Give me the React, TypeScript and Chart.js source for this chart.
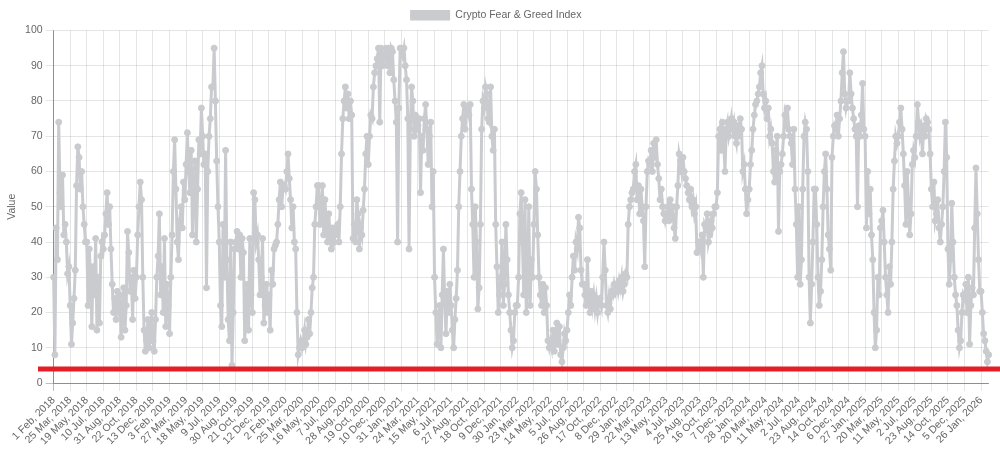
import React, { useEffect, useRef } from "react";
import { Chart, registerables } from "chart.js";

Chart.register(...registerables);

const SERIES_LABEL = "Crypto Fear & Greed Index";
const START_DATE = "2018-02-01";
const END_DATE = "2026-02-20";
const MISSING_DATES = ["2018-04-14", "2018-04-15", "2018-04-16", "2024-11-10"];
const SAMPLE_STEP = 4; // one reading every 4 days of the index
const MONTHS = ["Jan", "Feb", "Mar", "Apr", "May", "Jun", "Jul", "Aug", "Sep", "Oct", "Nov", "Dec"];

const TICK_LABELS = [
  "1 Feb, 2018", "25 Mar, 2018", "19 May, 2018", "10 Jul, 2018", "31 Aug, 2018", "22 Oct, 2018", "13 Dec, 2018",
  "3 Feb, 2019", "27 Mar, 2019", "18 May, 2019", "9 Jul, 2019", "30 Aug, 2019", "21 Oct, 2019", "12 Dec, 2019",
  "2 Feb, 2020", "25 Mar, 2020", "16 May, 2020", "7 Jul, 2020", "28 Aug, 2020", "19 Oct, 2020", "10 Dec, 2020",
  "31 Jan, 2021", "24 Mar, 2021", "15 May, 2021", "6 Jul, 2021", "27 Aug, 2021", "18 Oct, 2021", "9 Dec, 2021",
  "30 Jan, 2022", "23 Mar, 2022", "14 May, 2022", "5 Jul, 2022", "26 Aug, 2022", "17 Oct, 2022", "8 Dec, 2022",
  "29 Jan, 2023", "22 Mar, 2023", "13 May, 2023", "4 Jul, 2023", "25 Aug, 2023", "16 Oct, 2023", "7 Dec, 2023",
  "28 Jan, 2024", "20 Mar, 2024", "11 May, 2024", "2 Jul, 2024", "23 Aug, 2024", "14 Oct, 2024", "6 Dec, 2024",
  "27 Jan, 2025", "20 Mar, 2025", "11 May, 2025", "2 Jul, 2025", "23 Aug, 2025", "14 Oct, 2025", "5 Dec, 2025",
  "26 Jan, 2026",
];

const Y_MIN = 0;
const Y_MAX = 100;
const Y_STEP = 10;
const REFERENCE_LINE_VALUE = 4;

// Index readings, one every 4 days
const VALUES_2018 = [
  30, 8, 44, 35, 74, 54, 50, 59, 42, 45, 40, 31, 33,
  22, 11, 17, 24, 32, 56, 67, 64, 55, 60, 50, 45, 40,
  40, 22, 38, 30, 16, 33, 25, 41, 15, 30, 17, 36, 40,
  38, 42, 48, 54, 45, 50, 38, 28, 20, 24, 18, 26, 22,
  25, 13, 20, 27, 15, 22, 43, 37, 26, 30, 18, 32, 24,
  30, 42, 50, 57, 52, 30, 15, 9, 12, 18, 10, 14, 20,
  12, 9, 18, 30, 36, 48, 25, 33, 20, 41, 16, 28, 22,
];
const VALUES_2019 = [
  14, 30, 42, 60, 69, 55, 40, 35, 46, 50, 44, 57, 52,
  62, 71, 60, 54, 66, 42, 58, 63, 40, 55, 69, 65, 78,
  70, 62, 65, 27, 60, 70, 75, 84, 84, 95, 80, 63, 50,
  40, 22, 16, 45, 30, 66, 35, 18, 12, 40, 5, 20, 38,
  40, 43, 38, 42, 30, 41, 37, 12, 20, 28, 15, 41, 25,
  20, 54, 52, 40, 42, 35, 25, 30, 41, 17, 22, 28, 20,
  25, 15, 32, 28, 38, 39, 40, 45, 52, 57, 50, 55, 56,
];
const VALUES_2020 = [
  55, 60, 65, 58, 52, 44, 50, 40, 38, 20, 8, 10, 12,
  10, 12, 15, 11, 13, 18, 14, 20, 27, 30, 45, 50, 56,
  56, 45, 48, 56, 42, 52, 45, 40, 48, 42, 38, 44, 40,
  42, 44, 45, 40, 50, 65, 75, 80, 84, 78, 82, 75, 80,
  76, 41, 45, 40, 52, 48, 38, 44, 42, 49, 55, 65, 70,
  62, 70, 76, 75, 84, 88, 90, 92, 95, 74, 95, 90, 93,
  92, 95, 90, 95, 88, 95, 94, 86, 80, 74, 40, 78, 95,
];
const VALUES_2021 = [
  95, 93, 95, 90, 86, 75, 38, 72, 84, 80, 70, 76, 72,
  73, 75, 54, 70, 66, 75, 79, 72, 62, 70, 74, 50, 60,
  30, 20, 11, 15, 22, 10, 25, 38, 23, 14, 26, 20, 28,
  22, 15, 10, 18, 24, 32, 50, 60, 70, 75, 79, 72, 78,
  78, 76, 79, 55, 45, 30, 50, 40, 21, 27, 45, 72, 80,
  78, 84, 82, 75, 74, 84, 70, 66, 72, 45, 33, 20, 25,
  30, 40, 22, 28, 45, 35, 25, 20, 15, 10, 12, 20, 22,
];
const VALUES_2022 = [
  22, 30, 48, 54, 40, 25, 52, 20, 28, 50, 22, 35, 30,
  45, 60, 55, 42, 30, 25, 22, 28, 20, 27, 22, 12, 10,
  12, 10, 15, 9, 12, 17, 11, 16, 8, 6, 10, 14, 12,
  15, 20, 25, 22, 30, 36, 32, 40, 38, 47, 44, 32, 28,
  28, 25, 22, 35, 24, 20, 26, 22, 25, 21, 24, 20, 23,
  24, 22, 30, 40, 32, 22, 20, 24, 21, 26, 25, 28, 26,
  28, 26, 29, 27, 30, 26, 28, 31, 30, 45, 50, 52, 54,
];
const VALUES_2023 = [
  55, 60, 62, 52, 56, 48, 55, 50, 46, 33, 50, 60, 63,
  62, 66, 60, 68, 64, 69, 62, 58, 52, 55, 50, 48, 46,
  48, 50, 46, 52, 47, 50, 44, 41, 50, 56, 65, 63, 60,
  64, 60, 58, 56, 54, 52, 55, 50, 52, 48, 50, 37, 40,
  40, 38, 42, 30, 45, 44, 48, 40, 42, 46, 44, 48, 50,
  50, 54, 70, 72, 66, 74, 68, 60, 72, 74, 70, 72, 75,
  72, 74, 70, 68, 73, 70, 75, 72, 60, 62, 55, 48, 52,
];
const VALUES_2024 = [
  55, 62, 66, 72, 76, 79, 80, 82, 84, 88, 90, 82, 78,
  80, 75, 78, 70, 72, 68, 60, 57, 66, 70, 43, 60, 62,
  65, 70, 76, 74, 78, 72, 70, 68, 62, 72, 55, 45, 30,
  50, 28, 35, 55, 70, 74, 72, 60, 30, 17, 28, 40, 55,
  55, 45, 30, 22, 26, 35, 50, 60, 65, 55, 42, 38, 32,
  64, 70, 73, 72, 76, 70, 75, 80, 88, 94, 82, 78, 80,
  80, 88, 82, 78, 75, 72, 70, 50, 73, 70, 76, 85, 72,
];
const VALUES_2025 = [
  70, 44, 60, 48, 55, 42, 35, 20, 10, 15, 30, 25, 44,
  46, 49, 40, 30, 25, 20, 33, 28, 40, 55, 63, 70, 68,
  70, 74, 78, 72, 65, 56, 45, 60, 52, 42, 48, 62, 66,
  64, 70, 79, 74, 70, 72, 65, 73, 70, 75, 74, 72, 65,
  55, 50, 57, 46, 48, 52, 44, 40, 45, 50, 60, 74, 64,
  38, 28, 35, 51, 40, 30, 25, 22, 15, 10, 12, 20, 25,
  24, 28, 20, 30, 11, 22, 27, 25, 44, 61, 48, 35, 26,
  26, 20, 14, 12, 9, 6, 8,
];

const VALUES = [
  ...VALUES_2018, ...VALUES_2019, ...VALUES_2020, ...VALUES_2021,
  ...VALUES_2022, ...VALUES_2023, ...VALUES_2024, ...VALUES_2025,
];

function buildCategories(): string[] {
  const missing = new Set(MISSING_DATES);
  const out: string[] = [];
  const d = new Date(START_DATE + "T00:00:00Z");
  const end = new Date(END_DATE + "T00:00:00Z");
  let idx = 0;
  while (d.getTime() <= end.getTime()) {
    const iso = d.toISOString().slice(0, 10);
    if (!missing.has(iso)) {
      if (idx % SAMPLE_STEP === 0) {
        out.push(`${d.getUTCDate()} ${MONTHS[d.getUTCMonth()]}, ${d.getUTCFullYear()}`);
      }
      idx++;
    }
    d.setUTCDate(d.getUTCDate() + 1);
  }
  return out;
}

const CATEGORIES = buildCategories();
const TICK_SET = new Set(TICK_LABELS);

const GRAY = "rgb(201, 203, 207)";
const TEXT = "#666";
const GRID = "rgba(0,0,0,0.1)";
const AXIS_LINE = "rgba(0,0,0,0.25)";
const RED = "rgb(228, 30, 38)";
const FONT_SIZE = 10.5;
const X_AXIS_HEIGHT = 72;
const X_EXTRA_RIGHT = 7;

const referenceLine = {
  id: "referenceLine",
  afterDraw(chart: any) {
    const y = chart.scales.y.getPixelForValue(REFERENCE_LINE_VALUE);
    const ctx = chart.ctx;
    ctx.save();
    ctx.strokeStyle = RED;
    ctx.lineWidth = 5;
    ctx.beginPath();
    ctx.moveTo(38, y);
    ctx.lineTo(chart.width, y);
    ctx.stroke();
    ctx.restore();
  },
};

export default function App() {
  const canvasRef = useRef<HTMLCanvasElement | null>(null);

  useEffect(() => {
    if (!canvasRef.current) return;
    Chart.defaults.font.family = "'Liberation Sans', Arial, Helvetica, sans-serif";
    Chart.defaults.font.size = FONT_SIZE;
    Chart.defaults.color = TEXT;

    const data = CATEGORIES.map((_, i) => (i < VALUES.length ? VALUES[i] : null));

    const chart = new Chart(canvasRef.current, {
      type: "line",
      data: {
        labels: CATEGORIES,
        datasets: [
          {
            label: SERIES_LABEL,
            data,
            borderColor: GRAY,
            backgroundColor: GRAY,
            pointBackgroundColor: GRAY,
            pointBorderColor: GRAY,
            borderWidth: 3,
            pointRadius: 3,
            pointBorderWidth: 1,
            fill: false,
            tension: 0,
          },
        ],
      },
      options: {
        animation: false,
        responsive: true,
        maintainAspectRatio: false,
        layout: { padding: { left: 1.5, right: 10, top: 0, bottom: 0 } },
        plugins: {
          legend: {
            display: true,
            position: "top",
            labels: {
              color: TEXT,
              boxWidth: 40,
              font: { size: FONT_SIZE },
              generateLabels: (c: any) =>
                Chart.defaults.plugins.legend.labels
                  .generateLabels(c)
                  .map((l: any) => ({ ...l, lineWidth: 0 })),
            },
          },
          tooltip: { enabled: false },
        },
        scales: {
          x: {
            afterBuildTicks: (axis: any) => {
              axis.ticks = axis.ticks.filter((t: any) => TICK_SET.has(CATEGORIES[t.value]));
            },
            afterFit: (axis: any) => {
              axis.height = X_AXIS_HEIGHT;
              axis.paddingRight = (axis.paddingRight || 0) + X_EXTRA_RIGHT;
            },
            ticks: { autoSkip: false, maxRotation: 45, minRotation: 45, color: TEXT, font: { size: FONT_SIZE } },
            grid: {
              color: (c: any) => (c.index === 0 ? AXIS_LINE : GRID),
              tickLength: 8,
            },
            border: { color: AXIS_LINE },
          },
          y: {
            min: Y_MIN,
            max: Y_MAX,
            ticks: { stepSize: Y_STEP, color: TEXT, font: { size: FONT_SIZE } },
            title: { display: true, text: "Value", color: TEXT, font: { size: FONT_SIZE } },
            grid: {
              color: (c: any) => (c.tick && c.tick.value === 0 ? AXIS_LINE : GRID),
              tickLength: 8,
            },
            border: { color: AXIS_LINE },
          },
        },
      },
      plugins: [referenceLine],
    });
    return () => chart.destroy();
  }, []);

  return (
    <div style={{ position: "fixed", left: 0, top: 0, width: 1000, height: 455 }}>
      <canvas ref={canvasRef} />
    </div>
  );
}
